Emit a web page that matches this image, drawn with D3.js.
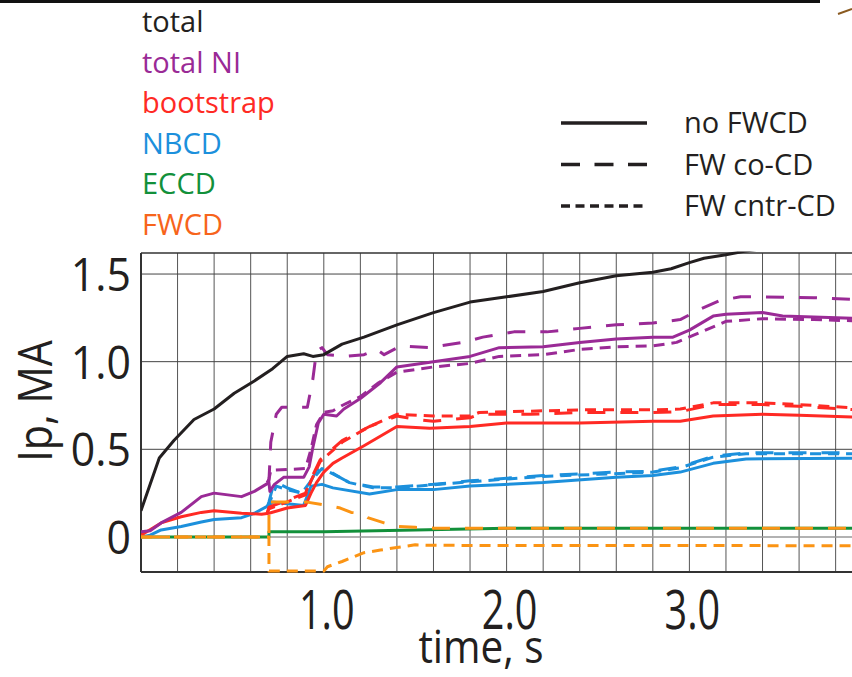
<!DOCTYPE html>
<html>
<head>
<meta charset="utf-8">
<script src="https://cdn.jsdelivr.net/npm/d3@7"></script>
<style>
body { margin: 0; background: #fff; }
svg { display: block; }
text { font-family: "Open Sans", sans-serif; }
</style>
</head>
<body>
<div class="chart"></div>
<script>
// time (s), current (MA)
var totalNoFw = [[0,0.15],[0.1,0.45],[0.18,0.55],[0.29,0.67],[0.4,0.73],[0.51,0.82],[0.62,0.89],[0.72,0.96],[0.8,1.03],[0.89,1.045],[0.94,1.03],[1.0,1.04],[1.1,1.1],[1.22,1.14],[1.4,1.21],[1.6,1.28],[1.8,1.34],[2.0,1.37],[2.2,1.4],[2.4,1.45],[2.6,1.49],[2.8,1.51],[2.9,1.53],[3.0,1.565],[3.08,1.59],[3.2,1.61],[3.3,1.63],[3.5,1.66],[4.0,1.7]];

var niNoFw = [[0,0.03],[0.05,0.035],[0.11,0.08],[0.22,0.14],[0.33,0.23],[0.4,0.25],[0.55,0.23],[0.62,0.26],[0.7,0.31],[0.705,0.26],[0.73,0.3],[0.78,0.34],[0.89,0.34],[0.92,0.4],[0.94,0.51],[0.97,0.65],[1.0,0.7],[1.07,0.69],[1.11,0.73],[1.2,0.79],[1.31,0.88],[1.4,0.97],[1.6,1.0],[1.8,1.03],[1.96,1.08],[2.2,1.085],[2.4,1.11],[2.6,1.13],[2.8,1.14],[2.91,1.14],[3.0,1.18],[3.13,1.26],[3.2,1.27],[3.4,1.28],[3.51,1.26],[4.0,1.245]];
var niCo = [[0.69,0.31],[0.7,0.32],[0.71,0.54],[0.74,0.7],[0.77,0.74],[0.91,0.74],[0.94,0.9],[0.96,1.06],[0.99,1.08],[1.02,1.04],[1.11,1.03],[1.22,1.04],[1.29,1.07],[1.33,1.04],[1.42,1.09],[1.58,1.08],[1.76,1.11],[1.87,1.14],[2.04,1.17],[2.22,1.17],[2.4,1.19],[2.6,1.21],[2.8,1.22],[2.95,1.24],[3.06,1.3],[3.17,1.35],[3.28,1.37],[3.4,1.37],[3.68,1.365],[4.0,1.35]];
var niCntr = [[0.69,0.31],[0.7,0.33],[0.71,0.38],[0.9,0.39],[0.93,0.5],[0.96,0.64],[1.0,0.71],[1.05,0.72],[1.1,0.75],[1.2,0.8],[1.3,0.88],[1.4,0.94],[1.6,0.97],[1.8,0.99],[1.96,1.03],[2.2,1.04],[2.4,1.07],[2.6,1.085],[2.8,1.09],[2.93,1.11],[3.02,1.15],[3.2,1.23],[3.4,1.245],[3.68,1.24],[4.0,1.23]];

var bsNoFw = [[0,0.01],[0.11,0.08],[0.22,0.115],[0.33,0.14],[0.4,0.15],[0.55,0.135],[0.66,0.13],[0.7,0.135],[0.8,0.165],[0.9,0.18],[0.93,0.25],[0.96,0.31],[1.0,0.37],[1.05,0.42],[1.1,0.45],[1.22,0.52],[1.4,0.63],[1.58,0.62],[1.8,0.63],[2.0,0.65],[2.4,0.65],[2.8,0.66],[2.95,0.66],[3.13,0.69],[3.4,0.7],[3.6,0.695],[4.0,0.68]];
var bsCo = [[0.69,0.135],[0.7,0.17],[0.8,0.21],[0.9,0.25],[0.93,0.33],[0.98,0.44],[1.1,0.55],[1.25,0.63],[1.4,0.69],[1.51,0.67],[1.6,0.66],[1.8,0.68],[1.85,0.7],[2.13,0.7],[2.4,0.71],[2.8,0.71],[2.95,0.715],[3.13,0.755],[3.4,0.755],[3.6,0.745],[4.0,0.72]];
var bsCntr = [[0.69,0.135],[0.7,0.16],[0.8,0.2],[0.9,0.24],[0.93,0.32],[0.98,0.43],[1.1,0.54],[1.25,0.63],[1.4,0.7],[1.6,0.69],[1.8,0.69],[1.85,0.71],[2.4,0.725],[2.8,0.725],[2.95,0.73],[3.13,0.765],[3.4,0.765],[3.6,0.755],[4.0,0.73]];

var nbNoFw = [[0,0],[0.05,0.01],[0.11,0.04],[0.22,0.06],[0.33,0.085],[0.4,0.1],[0.55,0.11],[0.62,0.135],[0.7,0.18],[0.72,0.2],[0.8,0.19],[0.89,0.18],[0.93,0.29],[0.99,0.3],[1.05,0.28],[1.25,0.245],[1.4,0.27],[1.6,0.27],[1.8,0.29],[2.2,0.31],[2.6,0.34],[2.8,0.35],[2.95,0.37],[3.13,0.42],[3.31,0.445],[4.0,0.45]];
var nbCo = [[0.69,0.17],[0.7,0.2],[0.72,0.28],[0.74,0.31],[0.8,0.28],[0.88,0.25],[0.92,0.3],[0.96,0.38],[1.0,0.395],[1.07,0.35],[1.14,0.31],[1.27,0.285],[1.4,0.285],[1.6,0.3],[1.8,0.32],[2.2,0.35],[2.6,0.37],[2.8,0.375],[2.95,0.4],[3.13,0.46],[3.31,0.48],[4.0,0.48]];
var nbCntr = [[0.69,0.17],[0.7,0.19],[0.74,0.29],[0.8,0.27],[0.88,0.25],[0.93,0.32],[0.99,0.39],[1.07,0.35],[1.14,0.31],[1.27,0.28],[1.4,0.28],[1.8,0.315],[2.2,0.345],[2.8,0.37],[2.95,0.395],[3.13,0.455],[3.31,0.475],[4.0,0.475]];

var ecAll = [[0,0],[0.7,0],[0.7,0.03],[1.0,0.03],[1.5,0.04],[2.0,0.05],[4.0,0.05]];

var fwCo = [[0,0],[0.7,0],[0.7,0.2],[0.9,0.2],[1.02,0.18],[1.09,0.165],[1.15,0.14],[1.2,0.135],[1.24,0.11],[1.33,0.08],[1.4,0.06],[1.5,0.055],[1.6,0.05],[4.0,0.05]];
var fwCntr = [[0,0],[0.7,0],[0.7,-0.195],[1.0,-0.195],[1.02,-0.17],[1.1,-0.14],[1.22,-0.09],[1.31,-0.075],[1.4,-0.06],[1.5,-0.045],[1.6,-0.048],[4.0,-0.05]];

var quantNames = ["total", "total NI", "bootstrap", "NBCD", "ECCD", "FWCD"];
var quantColors = ["#231f20", "#9a2a96", "#ff2a24", "#1c90dc", "#12903a", "#f7641b"];
var caseNames = ["no FWCD", "FW co-CD", "FW cntr-CD"];
var yTicks = [0, 0.5, 1.0, 1.5], yTickLabels = ["0", "0.5", "1.0", "1.5"];
var xTicks = [1, 2, 3], xTickLabels = ["1.0", "2.0", "3.0"];

var width = 852, height = 677,
	plotLeft = 141, plotTop = 253, plotBottom = 572,
	secPx = 182.8,
	dashes = [null, "18,15", "11,7"],
	fwLine = "#fb9414";

var svg = d3.select("div.chart")
	.append("svg")
	.attr("width", width)
	.attr("height", height);

var x = d3.scaleLinear().domain([0, 4]).range([plotLeft, plotLeft + 4 * secPx]);
var y = d3.scaleLinear().domain([-0.2, 1.62]).range([plotBottom, plotTop]);

// stray bits of the page the figure was cut from
svg.append("rect").attr("x", 0).attr("y", 0).attr("width", 820).attr("height", 3).attr("fill", "#111");
svg.append("line").attr("x1", 838).attr("y1", 14).attr("x2", 852).attr("y2", 9)
	.attr("stroke", "#8a5a20").attr("stroke-width", 2);

svg.append("clipPath").attr("id", "plotClip")
	.append("rect")
	.attr("x", plotLeft).attr("y", plotTop - 1.5)
	.attr("width", width - plotLeft).attr("height", plotBottom - plotTop + 3);

var gridLayer = svg.append("g");
var lineLayer = svg.append("g").attr("clip-path", "url(#plotClip)");

gridLayer.selectAll(".vgrid")
	.data(d3.range(1, 20).map(function(i) { return i * 0.2; }))
	.enter().append("line")
	.attr("x1", x).attr("x2", x)
	.attr("y1", plotTop).attr("y2", plotBottom)
	.attr("stroke", "#555").attr("stroke-width", 1);

gridLayer.selectAll(".hgrid")
	.data(yTicks)
	.enter().append("line")
	.attr("x1", plotLeft).attr("x2", width)
	.attr("y1", y).attr("y2", y)
	.attr("stroke", function(d) { return d === 0 ? "#999" : "#444"; })
	.attr("stroke-width", function(d) { return d === 0 ? 1.5 : 1; });

// frame
gridLayer.append("line").attr("x1", plotLeft).attr("x2", width).attr("y1", plotTop).attr("y2", plotTop)
	.attr("stroke", "#333").attr("stroke-width", 1.5);
gridLayer.append("line").attr("x1", plotLeft).attr("x2", width).attr("y1", plotBottom).attr("y2", plotBottom)
	.attr("stroke", "#333").attr("stroke-width", 2);
gridLayer.append("line").attr("x1", plotLeft).attr("x2", plotLeft).attr("y1", plotTop).attr("y2", plotBottom)
	.attr("stroke", "#333").attr("stroke-width", 2);

var line = d3.line()
	.x(function(d) { return x(d[0]); })
	.y(function(d) { return y(d[1]); })
	.curve(d3.curveLinear);

var series = [
	{ data: ecAll, q: 4, c: 0 },
	{ data: nbNoFw, q: 3, c: 0 },
	{ data: nbCo, q: 3, c: 1 },
	{ data: nbCntr, q: 3, c: 2 },
	{ data: bsNoFw, q: 2, c: 0 },
	{ data: bsCo, q: 2, c: 1 },
	{ data: bsCntr, q: 2, c: 2 },
	{ data: fwCo, q: 5, c: 1 },
	{ data: fwCntr, q: 5, c: 2 },
	{ data: niNoFw, q: 1, c: 0 },
	{ data: niCo, q: 1, c: 1 },
	{ data: niCntr, q: 1, c: 2 },
	{ data: totalNoFw, q: 0, c: 0 }
];

lineLayer.selectAll(".curve")
	.data(series)
	.enter().append("path")
	.attr("d", function(d) { return line(d.data); })
	.attr("fill", "none")
	.attr("stroke", function(d) { return d.q === 5 ? fwLine : quantColors[d.q]; })
	.attr("stroke-width", 3)
	.attr("stroke-linejoin", "round")
	.attr("stroke-dasharray", function(d) { return dashes[d.c]; });

// tick labels, condensed like the original lettering
svg.selectAll(".ytick")
	.data(yTicks)
	.enter().append("text")
	.attr("transform", function(d) { return "translate(131," + (y(d) + 17) + ") scale(0.93,1)"; })
	.attr("text-anchor", "end")
	.attr("font-size", 46)
	.attr("fill", "#231f20")
	.text(function(d, i) { return yTickLabels[i]; });

svg.selectAll(".xtick")
	.data(xTicks)
	.enter().append("text")
	.attr("transform", function(d) { return "translate(" + (x(d) + 3) + ",629) scale(0.72,1)"; })
	.attr("text-anchor", "middle")
	.attr("font-size", 55)
	.attr("fill", "#231f20")
	.text(function(d, i) { return xTickLabels[i]; });

svg.append("text")
	.attr("transform", "translate(481,663) scale(0.9,1)")
	.attr("text-anchor", "middle")
	.attr("font-size", 45)
	.attr("fill", "#231f20")
	.text("time, s");

svg.append("text")
	.attr("transform", "translate(52,401) rotate(-90) scale(0.88,1)")
	.attr("text-anchor", "middle")
	.attr("font-size", 47)
	.attr("fill", "#231f20")
	.text("Ip, MA");

// colour legend
svg.selectAll(".qname")
	.data(quantNames)
	.enter().append("text")
	.attr("x", 142)
	.attr("y", function(d, i) { return 32 + i * 40.6; })
	.attr("font-size", 29)
	.attr("fill", function(d, i) { return quantColors[i]; })
	.text(function(d) { return d; });

// line style legend
var caseKey = svg.selectAll(".case")
	.data(caseNames)
	.enter().append("g")
	.attr("transform", function(d, i) { return "translate(0," + (123 + i * 41.5) + ")"; });

caseKey.append("line")
	.attr("x1", 561).attr("x2", 647)
	.attr("stroke", "#231f20")
	.attr("stroke-width", 3.5)
	.attr("stroke-dasharray", function(d, i) { return [null, "19,14.5", "9,5.5"][i]; });

caseKey.append("text")
	.attr("x", 684)
	.attr("y", 10)
	.attr("font-size", 29)
	.attr("fill", "#231f20")
	.text(function(d) { return d; });
</script>
</body>
</html>
